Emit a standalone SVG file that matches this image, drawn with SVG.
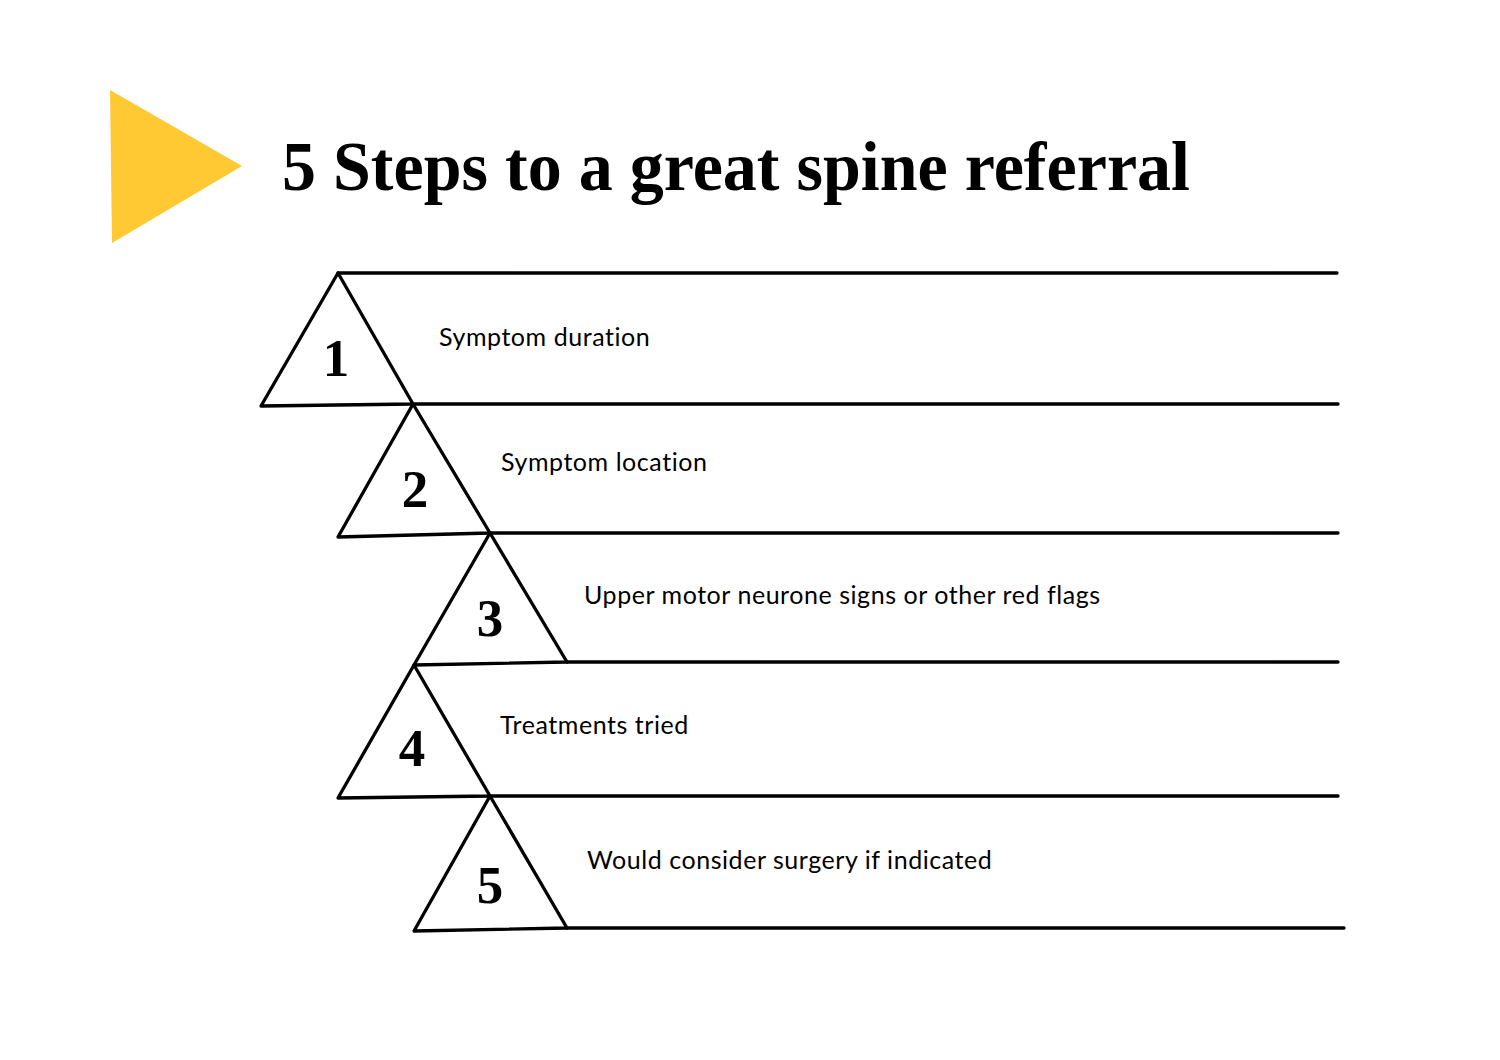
<svg xmlns="http://www.w3.org/2000/svg" width="1500" height="1060" viewBox="0 0 1500 1060">
<style>
.ln{stroke:#000;stroke-width:3.3;fill:none;stroke-linecap:round;stroke-linejoin:round}
.tri{stroke:#000;stroke-width:3.3;fill:#fff;stroke-linejoin:round}
.num{font-family:"Liberation Serif",serif;font-weight:bold;font-size:53px;text-anchor:middle;fill:#000}
.lbl{font-family:Lato,"Noto Sans",sans-serif;font-weight:400;font-size:25px;letter-spacing:0.55px;fill:#000}
.title{font-family:"Liberation Serif",serif;font-weight:bold;font-size:70px;fill:#000}
</style>
<rect width="1500" height="1060" fill="#fff"/>
<g id="header">
<polygon points="110,90 242,166 112,243" fill="#FFC933"/>
<text class="title" x="282" y="190" textLength="908" lengthAdjust="spacingAndGlyphs">5 Steps to a great spine referral</text>
</g>
<g id="connectors">
<line class="ln" x1="338" y1="273" x2="1337" y2="273"/>
<line class="ln" x1="413" y1="404" x2="1338" y2="404"/>
<line class="ln" x1="490" y1="533" x2="1338" y2="533"/>
<line class="ln" x1="567" y1="662" x2="1338" y2="662"/>
<line class="ln" x1="490" y1="796" x2="1338" y2="796"/>
<line class="ln" x1="567" y1="928" x2="1344" y2="928"/>
</g>
<g id="step1">
<polygon class="tri" points="338,273 413,404 261,406"/>
<text class="num" x="336" y="376">1</text>
<text class="lbl" x="439" y="346">Symptom duration</text>
</g>
<g id="step2">
<polygon class="tri" points="413,404 490,533 338,537"/>
<text class="num" x="415" y="507">2</text>
<text class="lbl" x="501" y="471">Symptom location</text>
</g>
<g id="step3">
<polygon class="tri" points="490,533 567,662 414,665"/>
<text class="num" x="490" y="636">3</text>
<text class="lbl" x="584" y="604">Upper motor neurone signs or other red flags</text>
</g>
<g id="step4">
<polygon class="tri" points="414,665 490,796 338,798"/>
<text class="num" x="412" y="766">4</text>
<text class="lbl" x="500" y="734">Treatments tried</text>
</g>
<g id="step5">
<polygon class="tri" points="490,796 567,928 414,931"/>
<text class="num" x="490" y="903">5</text>
<text class="lbl" x="587" y="869">Would consider surgery if indicated</text>
</g>
</svg>
